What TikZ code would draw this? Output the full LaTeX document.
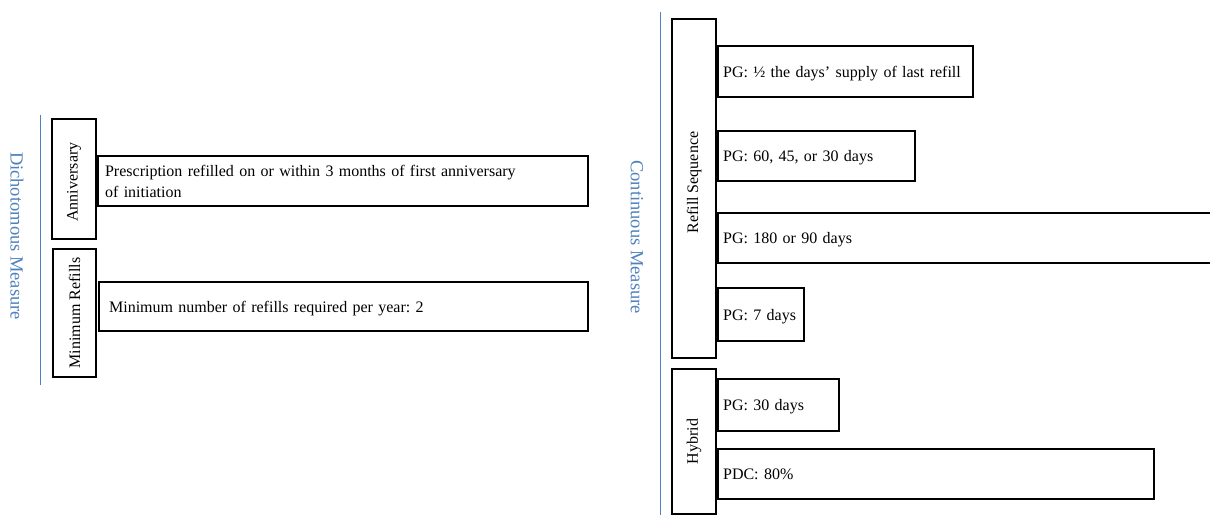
\documentclass[tikz,border=0pt]{standalone}
\usepackage{fontspec}
\setmainfont{Liberation Serif}
\definecolor{mblue}{RGB}{79,129,189}
\begin{document}
\frenchspacing
\begin{tikzpicture}[x=1pt,y=-1pt,
  txtfont/.style={font=\fontsize{16}{21}\selectfont},
  catbox/.style={draw=black, line width=2.2pt, inner sep=0pt, anchor=north west},
  itembox/.style={draw=black, line width=2.2pt, inner ysep=0pt, anchor=north west, align=left, txtfont},
  onebox/.style={itembox, text depth=0pt},
  catlabel/.style={rotate=90, txtfont, inner sep=0pt},
  measlabel/.style={rotate=-90, font=\fontsize{18.5}{22}\selectfont, text=mblue, inner sep=0pt},
  measline/.style={draw=mblue, line width=1pt}]
\clip (0,0) rectangle (1210,515);
\fill[white] (0,0) rectangle (1210,515);

% left side
\coordinate (dtop) at (40,115);
\coordinate (dbot) at (40,385);
\draw[measline] (dtop) -- (dbot);
\node[measlabel] (dich) at (17,236) {Dichotomous Measure};

\node[catbox, minimum width=44, minimum height=120] (anniv) at (51,118) {};
\node[catlabel] (annivT) at ([yshift=-3pt]anniv.center) {Anniversary};
\node[catbox, minimum width=43, minimum height=128] (minr) at (52,248) {};
\node[catlabel] (minrT) at (minr.center) {Minimum Refills};

\node[itembox, inner xsep=7pt, text width=476, minimum height=50] (presc) at (97,155)
  {Prescription refilled on or within 3 months of first anniversary\\of initiation};
\node[onebox, inner xsep=10pt, text width=469, minimum height=49] (minnum) at (98,281)
  {Minimum number of refills required per year: 2};

% right side
\coordinate (ctop) at (660,12);
\coordinate (cbot) at (660,515);
\draw[measline] (ctop) -- (cbot);
\node[measlabel] (cont) at (637,237) {Continuous Measure};

\node[catbox, minimum width=44, minimum height=339] (refill) at (671,18) {};
\node[catlabel] (refillT) at ([yshift=6pt]refill.center) {Refill Sequence};
\node[catbox, minimum width=44, minimum height=145] (hybrid) at (671,368) {};
\node[catlabel] (hybridT) at (hybrid.center) {Hybrid};

\node[onebox, inner xsep=5pt, text width=245, minimum height=51] (pg1) at (717,45)
  {PG: \textonehalf{} the days’ supply of last refill};
\node[onebox, inner xsep=5pt, text width=187, minimum height=50] (pg2) at (717,130)
  {PG: 60, 45, or 30 days};
\node[onebox, inner xsep=5pt, text width=490, minimum height=50] (pg3) at (717,212)
  {PG: 180 or 90 days};
\node[onebox, inner xsep=5pt, text width=76, minimum height=53] (pg4) at (717,287)
  {PG: 7 days};
\node[onebox, inner xsep=5pt, text width=111, minimum height=52] (pg5) at (717,378)
  {PG: 30 days};
\node[onebox, inner xsep=5pt, text width=426, minimum height=50] (pdc) at (717,448)
  {PDC: 80\%};
\end{tikzpicture}
\end{document}
